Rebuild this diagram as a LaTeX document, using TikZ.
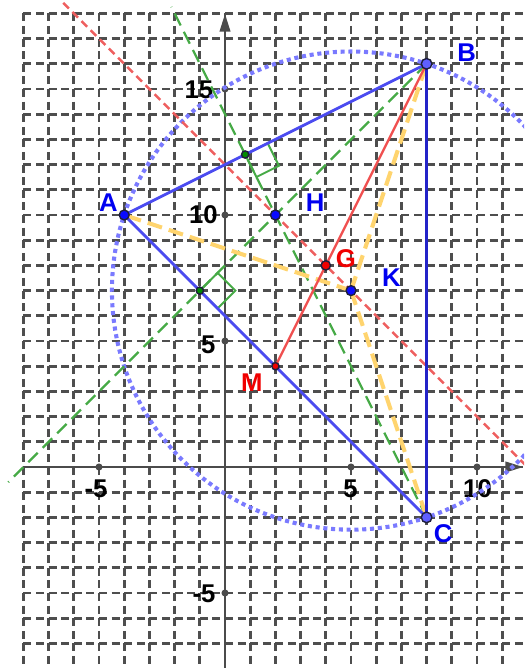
\documentclass[tikz,border=0pt]{standalone}
\usepackage{fontspec}
\setmainfont{Liberation Sans}
\usetikzlibrary{calc,arrows.meta}
\definecolor{gridc}{RGB}{78,78,78}
\definecolor{axisc}{RGB}{75,75,75}
\definecolor{circc}{RGB}{122,122,255}
\definecolor{triblue}{RGB}{75,75,240}
\definecolor{bcblue}{RGB}{35,35,200}
\definecolor{redl}{RGB}{240,80,80}
\definecolor{redd}{RGB}{238,95,95}
\definecolor{greenl}{RGB}{70,170,70}
\definecolor{yell}{RGB}{255,212,110}
\definecolor{ptblue}{RGB}{10,10,255}
\definecolor{ptlight}{RGB}{95,95,255}
\definecolor{ptred}{RGB}{240,0,0}
\definecolor{ptgreen}{RGB}{0,140,0}
\definecolor{outl}{RGB}{30,30,60}
\definecolor{lblue}{RGB}{0,0,240}
\definecolor{lred}{RGB}{240,0,0}
\tikzset{
 gridline/.style={draw=gridc, line width=1.5pt, dash pattern=on 4.5pt off 2.613pt},
 axisline/.style={draw=axisc, line width=1.1pt, -{Triangle[length=10pt,width=6pt]}},
 circline/.style={draw=circc, line width=2.3pt, dash pattern=on 2.3pt off 2.1pt},
 altline/.style={draw=greenl, line width=1.3pt, dash pattern=on 7.5pt off 4pt},
 eulerline/.style={draw=redd, line width=1.4pt, dash pattern=on 4.5pt off 2.8pt},
 radline/.style={draw=yell, line width=2.3pt, dash pattern=on 8.5pt off 4pt},
 sideline/.style={draw=triblue, line width=1.6pt},
 bcline/.style={draw=bcblue, line width=1.6pt},
 medline/.style={draw=redl, line width=1.3pt},
 rightmark/.style={draw=greenl, line width=1.1pt},
 gpoint/.style={circle, inner sep=0pt, draw=outl, line width=0.8pt, minimum size=#1},
 gpoint/.default=5.6pt,
 lbl/.style={inner sep=0pt, font=\bfseries\fontsize{14.5}{16}\selectfont},
 ticklbl/.style={lbl, text=black},
}
\begin{document}
\begin{tikzpicture}[x=0.5cm,y=0.5cm]
\useasboundingbox (-8.929,-7.976) rectangle (11.865,18.532);
\clip (-8.929,-7.976) rectangle (11.865,18.532);
% grid
\foreach \x in {-8,...,11} \draw[gridline] (\x,18) -- (\x,-8.3);
\foreach \y in {-7,...,18} \draw[gridline] (-8,\y) -- (12.2,\y);
% axes
\coordinate (xs) at (-8,0);
\coordinate (xe) at (11.83,0);
\coordinate (ys) at (0,-8.3);
\coordinate (ye) at (0,17.98);
\draw[axisline] (xs) -- (xe);
\draw[axisline] (ys) -- (ye);
\foreach \p in {(0,5),(0,10),(0,15),(0,-5),(-5,0),(5,0),(10,0)}
  \fill[axisc] \p circle (2pt);
\node[ticklbl] (t15) at (-1.04,14.98) {15};
\node[ticklbl] (t10y) at (-0.86,10.0) {10};
\node[ticklbl] (t5y) at (-0.66,4.86) {5};
\node[ticklbl] (tm5y) at (-0.83,-5.04) {-5};
\node[ticklbl] (tm5x) at (-5.12,-0.87) {-5};
\node[ticklbl] (t5x) at (4.98,-0.87) {5};
\node[ticklbl] (t10x) at (10.02,-0.86) {10};
% geometry
\coordinate (A) at (-4,10);
\coordinate (B) at (8,16);
\coordinate (C) at (8,-2);
\coordinate (M) at (2,4);
\coordinate (G) at (4,8);
\coordinate (H) at (2,10);
\coordinate (K) at (5,7);
\coordinate (F1) at (0.8,12.4);
\coordinate (F2) at (-1,7);
\coordinate (hb) at (-8.6,-0.6);
\coordinate (hc) at (-2.13,18.26);
\coordinate (e1) at (-6.42,18.42);
\coordinate (e2) at (12.2,-0.2);
% circumcircle
\draw[circline] (K) circle ({sqrt(90)});
% altitudes
\draw[altline] (B) -- (hb);
\draw[altline] (C) -- (hc);
% right angle marks
\coordinate (P1) at ($(F1)!0.5cm!(B)$);
\coordinate (P3) at ($(F1)!0.5cm!(C)$);
\coordinate (P2) at ($(P1)+(P3)-(F1)$);
\draw[rightmark] (F1) -- (P1) -- (P2) -- (P3) -- cycle;
\coordinate (Q1) at ($(F2)!0.5cm!(B)$);
\coordinate (Q3) at ($(F2)!0.5cm!(C)$);
\coordinate (Q2) at ($(Q1)+(Q3)-(F2)$);
\draw[rightmark] (F2) -- (Q1) -- (Q2) -- (Q3) -- cycle;
% Euler line
\draw[eulerline] (e1) -- (e2);
% radii
\draw[radline] (K) -- (A);
\draw[radline] (K) -- (B);
\draw[radline] (K) -- (C);
% triangle
\draw[sideline] (A) -- (B);
\draw[sideline] (A) -- (C);
\draw[bcline] (B) -- (C);
% median
\draw[medline] (B) -- (M);
% points
\node[gpoint=4.1pt, fill=ptgreen] (dF1) at (F1) {};
\node[gpoint=4.1pt, fill=ptgreen] (dF2) at (F2) {};
\node[gpoint=5.6pt, fill=ptblue] (dA) at (A) {};
\node[gpoint=6pt, fill=ptlight] (dB) at (B) {};
\node[gpoint=6pt, fill=ptlight] (dC) at (C) {};
\node[gpoint=5.6pt, fill=ptblue] (dH) at (H) {};
\node[gpoint=5.6pt, fill=ptblue] (dK) at (K) {};
\node[gpoint=5.3pt, fill=ptred] (dG) at (G) {};
\node[gpoint=4.1pt, fill=ptred] (dM) at (M) {};
% labels
\node[lbl, text=lblue] (lA) at (-4.63,10.48) {A};
\node[lbl, text=lblue] (lB) at (9.59,16.43) {B};
\node[lbl, text=lblue] (lC) at (8.66,-2.63) {C};
\node[lbl, text=lblue] (lH) at (3.58,10.5) {H};
\node[lbl, text=lred] (lG) at (4.80,8.26) {G};
\node[lbl, text=lblue] (lK) at (6.60,7.52) {K};
\node[lbl, text=lred] (lM) at (1.06,3.35) {M};
\end{tikzpicture}
\end{document}
